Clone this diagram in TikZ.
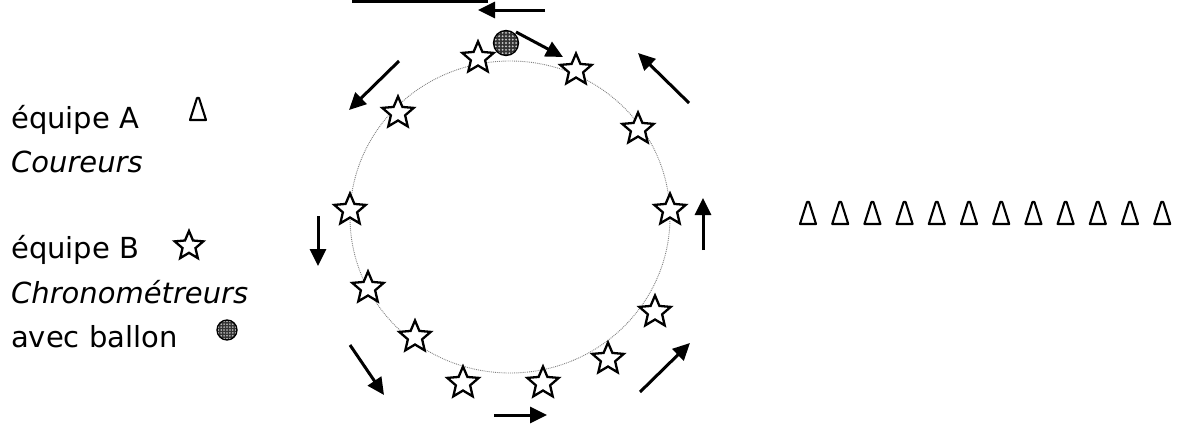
\documentclass[tikz,border=0pt]{standalone}
\usepackage{fontspec}
\setmainfont{DejaVu Sans}
\usetikzlibrary{shapes.geometric,arrows.meta}
\begin{document}
\begin{tikzpicture}[x=1pt,y=-1pt,
  etoile/.style={star,star points=5,star point ratio=2.2,draw,line width=2.3pt,line join=miter,minimum size=33pt,inner sep=0pt,fill=white},
  ballon/.style={circle,draw,line width=1.3pt,inner sep=0pt,fill=black!80,
    path picture={\foreach \i in {-3,...,3} \foreach \j in {-3,...,3}
      \fill[white!80!black] ([shift={(\i*\pas,\j*\pas)}]path picture bounding box.center) circle (0.3*\pas);}},
  cone/.style={coordinate},
  conetrait/.style={line width=2.1pt,line join=round},
  fleche/.style={line width=3pt,-{Triangle[length=17pt,width=16pt]}},
  legende/.style={anchor=base west,font=\fontsize{29}{29}\selectfont,inner sep=0pt},
  anneau/.style={ellipse,draw=black!50,line width=0.9pt,densely dotted,inner sep=0pt}]
\useasboundingbox (0,0) rectangle (1178,426);
% legend
\node[legende] (eqA) at (11,128) {équipe A};
\node[cone] (legA) at (198,109) {};
\node[legende] (cour) at (11,172) {\itshape Coureurs};
\node[legende] (eqB) at (11,258) {équipe B};
\node[etoile,minimum size=30pt] (legB) at (189,246) {};
\node[legende] (chrono) at (11,303) {\itshape Chronométreurs};
\node[legende] (avec) at (11,347) {avec ballon};
\def\pas{2.9}
\node[ballon,minimum size=20pt] (legC) at (227,330) {};
% top bar
\coordinate (barL) at (352,1);
\coordinate (barR) at (488,1);
\draw[line width=3pt] (barL) -- (barR);
% ring
\node[anneau,minimum width=320pt,minimum height=312pt] (ring) at (510,217) {};
% stars
\foreach \n/\x/\y in {s1/478/58, s2/576/70, s3/398/113, s4/638/129, s5/350/210, s6/670/210,
                      s7/368/288, s8/655/312, s9/415/337, s10/608/359, s11/463/383, s12/543/383}
  \node[etoile] (\n) at (\x,\y) {};
% ball
\def\pas{3.4}
\node[ballon,minimum size=25pt] (ball) at (506,43) {};
% arrows
\coordinate (bA) at (516,32); \coordinate (bB) at (563,57);
\draw[fleche] (bA) -- (bB);
\coordinate (tA) at (545,10); \coordinate (tB) at (478,10);
\draw[fleche] (tA) -- (tB);
\coordinate (ulA) at (399,61); \coordinate (ulB) at (349,110);
\draw[fleche] (ulA) -- (ulB);
\coordinate (urA) at (689,103); \coordinate (urB) at (638,53);
\draw[fleche] (urA) -- (urB);
\coordinate (lA) at (318,216); \coordinate (lB) at (318,266);
\draw[fleche] (lA) -- (lB);
\coordinate (rA) at (703,250); \coordinate (rB) at (703,198);
\draw[fleche] (rA) -- (rB);
\coordinate (llA) at (350,345); \coordinate (llB) at (384,395);
\draw[fleche] (llA) -- (llB);
\coordinate (lrA) at (640,392); \coordinate (lrB) at (690,343);
\draw[fleche] (lrA) -- (lrB);
\coordinate (bbA) at (494,415); \coordinate (bbB) at (547,415);
\draw[fleche] (bbA) -- (bbB);
% row of cones
\foreach \i in {0,...,11}
  \node[cone] (c\i) at ({808+32.2*\i},213) {};
\foreach \n in {legA,c0,c1,c2,c3,c4,c5,c6,c7,c8,c9,c10,c11}
  \draw[conetrait] ([shift={(-8,11)}]\n) -- ([shift={(-1,-11)}]\n) -- ([shift={(1,-11)}]\n) -- ([shift={(8,11)}]\n) -- cycle;
\end{tikzpicture}
\end{document}
